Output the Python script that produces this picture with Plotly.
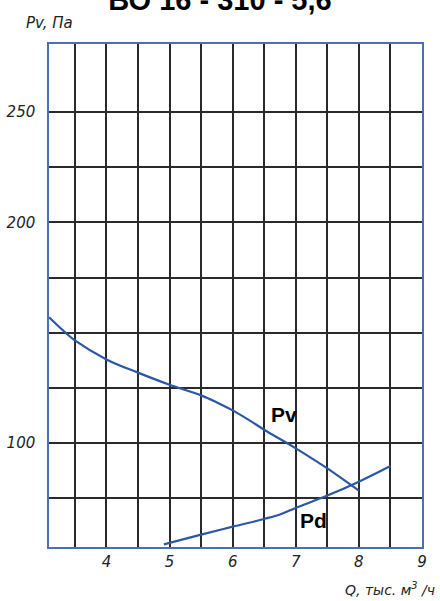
import plotly.graph_objects as go

# Data
pv_q = [3.09, 3.36, 3.5, 4.0, 4.5, 5.0, 5.5, 5.75, 6.0, 6.26, 6.5, 7.0, 7.5, 8.0]
pv_p = [157.0, 149.8, 146.5, 137.9, 131.9, 126.4, 121.6, 118.4, 114.8, 110.4, 106.0, 97.6, 88.5, 78.4]

pd_q = [4.91, 5.5, 6.0, 6.5, 6.75, 7.0, 7.5, 8.0, 8.5]
pd_p = [54.1, 58.5, 62.1, 65.6, 67.6, 70.6, 76.2, 82.5, 89.6]

x_tickvals = [3.5, 4, 4.5, 5, 5.5, 6, 6.5, 7, 7.5, 8, 8.5, 9]
x_ticktext = ["", "4", "", "5", "", "6", "", "7", "", "8", "", "9"]
y_tickvals = [75, 100, 125, 150, 175, 200, 225, 250]
y_ticktext = ["", "100", "", "", "", "200", "", "250"]

title_text = "ВО 16 - 310 - 5,6"
curve_color = "#2c56a6"
grid_color = "#2a2a2a"
border_color = "#4a6fb5"

fig = go.Figure()
fig.add_trace(go.Scatter(x=pv_q, y=pv_p, mode="lines",
                         line=dict(color=curve_color, width=2.2, shape="spline", smoothing=1.0),
                         showlegend=False, hoverinfo="skip"))
fig.add_trace(go.Scatter(x=pd_q, y=pd_p, mode="lines",
                         line=dict(color=curve_color, width=2.2, shape="spline", smoothing=1.0),
                         showlegend=False, hoverinfo="skip"))

tick_font = dict(family="DejaVu Sans", size=15, color="#222", style="italic")

fig.update_xaxes(range=[3.09, 9.0], tickvals=x_tickvals, ticktext=x_ticktext,
                 showgrid=True, gridcolor=grid_color, gridwidth=1.5,
                 showline=True, mirror=True, linecolor=border_color, linewidth=1.5,
                 ticks="", zeroline=False, tickfont=tick_font, ticklabelstandoff=0,
                 automargin=False)
fig.update_yaxes(range=[52.9, 280.8], tickvals=y_tickvals, ticktext=y_ticktext,
                 showgrid=True, gridcolor=grid_color, gridwidth=1.5,
                 showline=True, mirror=True, linecolor=border_color, linewidth=1.5,
                 ticks="", zeroline=False, tickfont=tick_font, ticklabelstandoff=9,
                 automargin=False)

fig.update_layout(
    width=440, height=601,
    margin=dict(l=49, r=18, t=44, b=54, autoexpand=False),
    paper_bgcolor="white", plot_bgcolor="white",
    title=dict(text=title_text, x=0.5, xanchor="center", xref="container",
               y=1.0, yref="container", yanchor="middle", pad=dict(t=0, b=0),
               font=dict(family="Liberation Sans", size=29, color="black", weight="bold"),
               automargin=False),
    annotations=[
        dict(text="Pv, Па", xref="paper", yref="paper", x=0.0, y=1.02,
             xanchor="center", yanchor="bottom", showarrow=False,
             font=dict(family="DejaVu Sans", size=15, color="#222", style="italic")),
        dict(text="Q, тыс. м<sup>3</sup> /ч", xref="paper", yref="paper", x=1.04, y=-0.062,
             xanchor="right", yanchor="top", showarrow=False,
             font=dict(family="DejaVu Sans", size=14, color="#222", style="italic")),
        dict(text="Pv", x=6.82, y=113, xref="x", yref="y", showarrow=False,
             font=dict(family="Liberation Sans", size=21, color="black", weight="bold")),
        dict(text="Pd", x=7.28, y=65, xref="x", yref="y", showarrow=False,
             font=dict(family="Liberation Sans", size=21, color="black", weight="bold")),
    ],
)

fig.write_html("out.html", config={"displayModeBar": False},
               post_script="document.body.style.margin='0px';document.body.style.overflow='hidden';")
